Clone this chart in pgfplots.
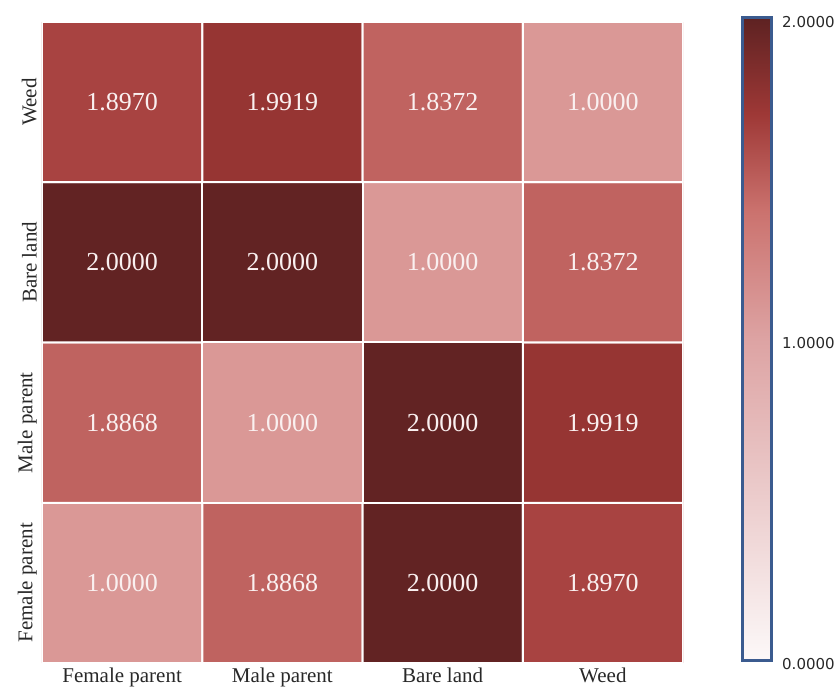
\documentclass[border=0pt]{standalone}
\usepackage{fontspec}
\setmainfont{Liberation Serif}
\newfontfamily\cbfont{DejaVu Sans}
\usepackage{pgfplots}
\pgfplotsset{compat=1.18}
\usepackage{pgfplotstable}

\definecolor{labelgray}{RGB}{40,40,40}
\definecolor{cellText}{RGB}{250,240,240}
\definecolor{barFrame}{RGB}{59,91,143}

% pairwise values: columns Female parent, Male parent, Bare land, Weed
\pgfplotstableread{
x y v
0 0 1.0000
1 0 1.8868
2 0 2.0000
3 0 1.8970
0 1 1.8868
1 1 1.0000
2 1 2.0000
3 1 1.9919
0 2 2.0000
1 2 2.0000
2 2 1.0000
3 2 1.8372
0 3 1.8970
1 3 1.9919
2 3 1.8372
3 3 1.0000
}\heatdata

% colour bar strip, one row per colormap knot
\pgfplotstableread{
x y
0 0
1 0
0 0.5
1 0.5
0 1
1 1
0 1.4
1 1.4
0 1.7
1 1.7
0 2
1 2
}\bardata

\pgfplotsset{
  colormap={cellmap}{
    rgb255(0pt)=(252,248,248);
    rgb255(1000pt)=(218,152,150);
    rgb255(1837pt)=(192,99,96);
    rgb255(1887pt)=(191,99,96);
    rgb255(1897pt)=(168,67,65);
    rgb255(1992pt)=(150,53,51);
    rgb255(2000pt)=(98,35,35)
  },
  colormap={barmap}{
    rgb255(0pt)=(252,248,248);
    rgb255(500pt)=(236,205,205);
    rgb255(1000pt)=(221,163,163);
    rgb255(1400pt)=(203,114,110);
    rgb255(1700pt)=(158,56,54);
    rgb255(2000pt)=(94,34,34)
  },
}

\begin{document}
\begin{tikzpicture}
\path[use as bounding box] (-42pt,-28pt) rectangle (796pt,663pt);

\begin{axis}[
  at={(0pt,0pt)}, anchor=south west,
  width=641pt, height=641pt, scale only axis,
  xmin=-0.5, xmax=3.5, ymin=-0.5, ymax=3.5,
  enlargelimits=false,
  axis line style={draw=none},
  major tick length=0pt,
  xtick={0,1,2,3},
  xticklabels={Female parent,{\raisebox{-5pt}{Male parent}},Bare land,Weed},
  ytick={0,1,2,3},
  yticklabels={Female parent,Male parent,Bare land,Weed},
  xticklabel style={font=\fontsize{21}{24}\selectfont, text=labelgray, anchor=north, inner sep=0pt, yshift=-5pt},
  yticklabel style={font=\fontsize{21}{24}\selectfont, text=labelgray, rotate=90, anchor=south, inner sep=0pt, yshift=5pt},
  colormap name=cellmap,
  point meta min=0, point meta max=2,
  nodes near coords={\pgfmathprintnumber[fixed,fixed zerofill,precision=4,assume math mode=true]{\pgfplotspointmeta}},
  nodes near coords align=center,
  every node near coord/.append style={font=\fontsize{26}{28}\selectfont, text=cellText, anchor=center},
]
\addplot[matrix plot*, mesh/cols=4, draw=white, line width=2pt, point meta=explicit]
  table[x=x, y=y, meta=v] {\heatdata};
\end{axis}

\begin{axis}[
  at={(700pt,3pt)}, anchor=south west,
  width=29pt, height=642pt, scale only axis,
  xmin=0, xmax=1, ymin=0, ymax=2,
  enlargelimits=false,
  axis line style={draw=barFrame, line width=3pt},
  major tick length=0pt,
  xtick=\empty,
  ytick={0,1,2},
  yticklabels={0.0000,1.0000,2.0000},
  yticklabel pos=right,
  yticklabel style={font=\cbfont\fontsize{15}{17}\selectfont, text=labelgray, anchor=west, inner sep=0pt, xshift=11pt, yshift=-4pt},
  colormap name=barmap,
  point meta min=0, point meta max=2,
  axis on top,
]
\addplot[surf, shader=interp, mesh/cols=2, point meta=y] table[x=x, y=y] {\bardata};
\end{axis}
\end{tikzpicture}
\end{document}
